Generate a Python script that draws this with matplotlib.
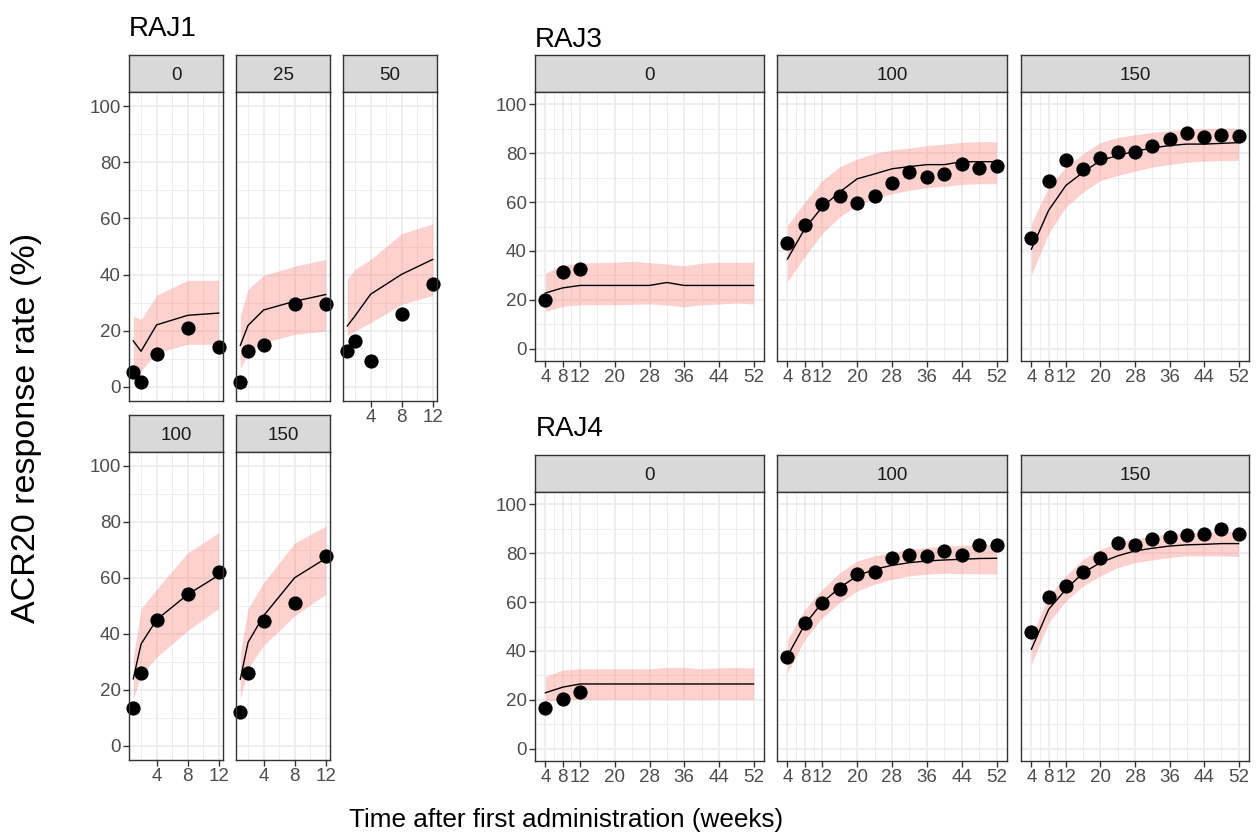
import matplotlib
matplotlib.use("Agg")
import matplotlib.pyplot as plt
from matplotlib.ticker import FixedLocator

plt.rcParams['font.family'] = ['Liberation Sans', 'DejaVu Sans']

# ---------------- data ----------------
weeks_raj1 = [1, 2, 4, 8, 12]
weeks_long = [4, 8, 12, 16, 20, 24, 28, 32, 36, 40, 44, 48, 52]
weeks_short = [4, 8, 12]

xticks_raj1 = [4, 8, 12]
xticks_long = [4, 8, 12, 20, 28, 36, 44, 52]
yticks = [0, 20, 40, 60, 80, 100]

# RAJ1
raj1_d0_obs = [5.5, 1.8, 11.7, 20.9, 14.4]
raj1_d0_med = [16.4, 12.7, 22.1, 25.5, 26.3]
raj1_d0_lo = [7.5, 5.7, 12.2, 15.2, 15.2]
raj1_d0_hi = [25.3, 24.0, 32.6, 38.0, 38.0]

raj1_d25_obs = [1.8, 12.9, 15.1, 29.7, 29.4]
raj1_d25_med = [14.8, 21.9, 27.4, 30.5, 32.9]
raj1_d25_lo = [6.3, 12.2, 15.8, 18.7, 19.9]
raj1_d25_hi = [25.3, 34.8, 39.7, 43.0, 45.4]

raj1_d50_obs = [12.7, 16.4, 9.4, 26.0, 36.5]
raj1_d50_med = [21.7, 25.3, 33.0, 40.1, 45.4]
raj1_d50_lo = [18.1, 19.9, 22.9, 29.4, 32.6]
raj1_d50_hi = [38.3, 41.9, 45.4, 54.6, 58.1]

raj1_d100_obs = [13.4, 26.2, 44.9, 54.3, 62.1]
raj1_d100_med = [24.0, 36.4, 45.1, 54.1, 61.0]
raj1_d100_lo = [16.9, 25.2, 31.7, 41.2, 49.1]
raj1_d100_hi = [31.7, 49.1, 56.0, 69.0, 76.1]

raj1_d150_obs = [12.2, 26.2, 44.6, 50.9, 68.0]
raj1_d150_med = [23.8, 37.0, 46.5, 60.1, 67.0]
raj1_d150_lo = [16.9, 27.6, 35.9, 46.5, 54.2]
raj1_d150_hi = [32.9, 49.1, 58.3, 72.5, 78.5]

# RAJ3
raj3_d0_obs = [20.1, 31.2, 32.7]
raj3_d0_med = [22.8, 24.9, 25.9, 25.9, 25.9, 25.9, 25.9, 27.1, 25.9, 25.9, 25.9, 25.9, 25.9]
raj3_d0_lo = [15.3, 17.3, 18.0, 18.0, 18.0, 18.2, 18.3, 17.9, 17.1, 18.0, 18.3, 18.7, 18.3]
raj3_d0_hi = [30.9, 34.3, 35.0, 35.2, 35.4, 35.8, 35.2, 34.7, 33.9, 35.0, 35.4, 35.4, 35.4]

raj3_d100_obs = [43.1, 50.8, 59.1, 62.5, 59.8, 62.5, 67.9, 72.1, 70.2, 71.3, 75.6, 73.8, 74.8]
raj3_d100_med = [36.7, 49.2, 58.0, 64.1, 69.5, 71.5, 73.6, 74.5, 75.3, 75.3, 76.5, 76.5, 76.5]
raj3_d100_lo = [27.5, 37.7, 47.2, 53.9, 58.7, 61.4, 63.4, 64.8, 65.9, 66.4, 67.2, 67.5, 67.5]
raj3_d100_hi = [50.5, 60.0, 68.8, 74.5, 77.6, 79.9, 81.3, 82.1, 83.1, 83.7, 84.4, 84.7, 84.7]

raj3_d150_obs = [45.1, 68.6, 77.0, 73.4, 78.0, 80.4, 80.4, 82.8, 85.8, 88.1, 86.7, 87.5, 87.0]
raj3_d150_med = [40.7, 56.6, 66.8, 72.2, 77.0, 79.0, 80.8, 82.1, 83.1, 83.7, 83.7, 84.0, 84.3]
raj3_d150_lo = [30.2, 47.2, 58.0, 64.1, 68.8, 70.9, 72.6, 74.3, 75.3, 76.3, 76.7, 77.0, 77.0]
raj3_d150_hi = [51.2, 66.1, 74.3, 79.7, 84.4, 86.4, 87.5, 88.5, 89.2, 89.8, 90.1, 90.2, 90.2]

# RAJ4
raj4_d0_obs = [16.8, 20.5, 23.2]
raj4_d0_med = [22.9, 25.2, 26.5, 26.5, 26.5, 26.5, 26.5, 26.5, 26.5, 26.5, 26.5, 26.5, 26.5]
raj4_d0_lo = [19.5, 20.2, 20.2, 20.2, 20.2, 20.2, 20.2, 20.2, 20.2, 20.2, 20.2, 20.2, 20.2]
raj4_d0_hi = [29.5, 32.2, 32.7, 32.7, 32.7, 32.7, 32.7, 33.3, 33.3, 32.7, 33.1, 33.3, 33.0]

raj4_d100_obs = [37.5, 51.4, 59.5, 65.5, 71.6, 72.4, 78.2, 79.4, 79.0, 80.8, 79.3, 83.5, 83.2]
raj4_d100_med = [37.9, 50.9, 59.8, 65.9, 70.7, 73.4, 75.0, 76.1, 76.8, 77.2, 77.5, 77.8, 77.9]
raj4_d100_lo = [31.1, 44.7, 53.6, 59.8, 64.5, 67.3, 69.3, 70.7, 71.4, 71.8, 71.6, 71.6, 71.4]
raj4_d100_hi = [44.7, 57.0, 65.2, 72.0, 76.8, 78.9, 80.2, 81.6, 82.3, 82.9, 83.2, 83.4, 83.5]

raj4_d150_obs = [47.9, 62.2, 66.6, 72.3, 77.9, 84.3, 83.2, 85.7, 86.6, 87.3, 87.7, 90.0, 87.9]
raj4_d150_med = [40.7, 57.0, 65.2, 72.0, 76.1, 78.9, 80.9, 82.0, 82.9, 83.4, 83.6, 83.9, 83.9]
raj4_d150_lo = [34.5, 51.6, 60.4, 66.6, 70.7, 74.1, 76.1, 77.2, 78.2, 78.9, 78.9, 78.9, 78.6]
raj4_d150_hi = [46.1, 62.5, 70.7, 77.5, 81.6, 84.3, 85.9, 87.0, 88.0, 88.4, 88.7, 88.9, 89.1]

# ---------------- figure ----------------
W, H = 1256, 840
fig = plt.figure(figsize=(W / 100, H / 100), dpi=100)

RIBBON = '#F8766D'
EDGE = '#333333'
GRID = '#EBEBEB'


def px_axes(x0, x1, y0, y1):
    return fig.add_axes([x0 / W, 1 - y1 / H, (x1 - x0) / W, (y1 - y0) / H])


def panel(x0, x1, strip_top, strip_bot, plot_bot, label, wk_obs, obs, wk_sim,
          med, lo, hi, xmajor, xminor, xlim, show_x, show_y):
    # strip
    sax = px_axes(x0, x1, strip_top, strip_bot)
    sax.set_facecolor('#D9D9D9')
    sax.set_xticks([]); sax.set_yticks([])
    for s in sax.spines.values():
        s.set_color(EDGE); s.set_linewidth(1.0)
    sax.text(0.5, 0.45, label, ha='center', va='center', fontsize=13.5,
             color='#1A1A1A', transform=sax.transAxes)

    ax = px_axes(x0, x1, strip_bot, plot_bot)
    ax.set_facecolor('white')
    ax.set_xlim(*xlim)
    ax.set_ylim(-5, 105)
    ax.xaxis.set_major_locator(FixedLocator(xmajor))
    ax.xaxis.set_minor_locator(FixedLocator(xminor))
    ax.yaxis.set_major_locator(FixedLocator(yticks))
    ax.yaxis.set_minor_locator(FixedLocator([10, 30, 50, 70, 90]))
    ax.grid(True, which='major', color=GRID, linewidth=1.2, zorder=0)
    ax.grid(True, which='minor', color=GRID, linewidth=0.6, zorder=0)
    ax.set_axisbelow(True)
    for s in ax.spines.values():
        s.set_color(EDGE); s.set_linewidth(1.0); s.set_zorder(5)
    ax.tick_params(which='minor', length=0)
    ax.tick_params(which='major', length=4, width=1, color=EDGE,
                   labelsize=13.5, labelcolor='#4D4D4D', pad=2)
    if not show_x:
        ax.tick_params(axis='x', which='major', length=0, labelbottom=False)
    if not show_y:
        ax.tick_params(axis='y', which='major', length=0, labelleft=False)

    ax.fill_between(wk_sim, lo, hi, color=RIBBON, alpha=0.33, linewidth=0, zorder=2)
    ax.plot(wk_sim, med, color='black', linewidth=1.0, zorder=3)
    ax.scatter(wk_obs, obs, s=105, color='black', zorder=4, linewidths=0,
               clip_on=False)
    return ax


raj1_minor = [2, 6, 10]
raj1_xlim = (0.45, 12.55)
long_minor = [6, 10, 16, 24, 32, 40, 48]
long_xlim = (1.6, 54.4)

c1 = [(129, 223), (236, 330), (343, 437)]
c3 = [(535, 764), (777, 1007), (1021, 1249)]

# RAJ1 top row
panel(*c1[0], 55, 92, 401, '0', weeks_raj1, raj1_d0_obs, weeks_raj1,
      raj1_d0_med, raj1_d0_lo, raj1_d0_hi, xticks_raj1, raj1_minor, raj1_xlim,
      False, True)
panel(*c1[1], 55, 92, 401, '25', weeks_raj1, raj1_d25_obs, weeks_raj1,
      raj1_d25_med, raj1_d25_lo, raj1_d25_hi, xticks_raj1, raj1_minor, raj1_xlim,
      False, False)
panel(*c1[2], 55, 92, 401, '50', weeks_raj1, raj1_d50_obs, weeks_raj1,
      raj1_d50_med, raj1_d50_lo, raj1_d50_hi, xticks_raj1, raj1_minor, raj1_xlim,
      True, False)
# RAJ1 bottom row
panel(*c1[0], 415, 452, 760, '100', weeks_raj1, raj1_d100_obs, weeks_raj1,
      raj1_d100_med, raj1_d100_lo, raj1_d100_hi, xticks_raj1, raj1_minor, raj1_xlim,
      True, True)
panel(*c1[1], 415, 452, 760, '150', weeks_raj1, raj1_d150_obs, weeks_raj1,
      raj1_d150_med, raj1_d150_lo, raj1_d150_hi, xticks_raj1, raj1_minor, raj1_xlim,
      True, False)

# RAJ3
panel(*c3[0], 55, 92, 361, '0', weeks_short, raj3_d0_obs, weeks_long,
      raj3_d0_med, raj3_d0_lo, raj3_d0_hi, xticks_long, long_minor, long_xlim,
      True, True)
panel(*c3[1], 55, 92, 361, '100', weeks_long, raj3_d100_obs, weeks_long,
      raj3_d100_med, raj3_d100_lo, raj3_d100_hi, xticks_long, long_minor, long_xlim,
      True, False)
panel(*c3[2], 55, 92, 361, '150', weeks_long, raj3_d150_obs, weeks_long,
      raj3_d150_med, raj3_d150_lo, raj3_d150_hi, xticks_long, long_minor, long_xlim,
      True, False)

# RAJ4
panel(*c3[0], 455, 492, 761, '0', weeks_short, raj4_d0_obs, weeks_long,
      raj4_d0_med, raj4_d0_lo, raj4_d0_hi, xticks_long, long_minor, long_xlim,
      True, True)
panel(*c3[1], 455, 492, 761, '100', weeks_long, raj4_d100_obs, weeks_long,
      raj4_d100_med, raj4_d100_lo, raj4_d100_hi, xticks_long, long_minor, long_xlim,
      True, False)
panel(*c3[2], 455, 492, 761, '150', weeks_long, raj4_d150_obs, weeks_long,
      raj4_d150_med, raj4_d150_lo, raj4_d150_hi, xticks_long, long_minor, long_xlim,
      True, False)

# titles and axis labels
fig.text(129 / W, 1 - 36 / H, 'RAJ1', fontsize=20, color='black', ha='left', va='baseline')
fig.text(535 / W, 1 - 47 / H, 'RAJ3', fontsize=20, color='black', ha='left', va='baseline')
fig.text(536 / W, 1 - 436 / H, 'RAJ4', fontsize=20, color='black', ha='left', va='baseline')
fig.text(27 / W, 1 - 428 / H, 'ACR20 response rate (%)', fontsize=24.5, rotation=90,
         ha='center', va='center', color='black')
fig.text(566 / W, 1 - 827 / H, 'Time after first administration (weeks)', fontsize=18.8,
         ha='center', va='baseline', color='black')

fig.savefig('out.png', dpi=100, facecolor='white')
